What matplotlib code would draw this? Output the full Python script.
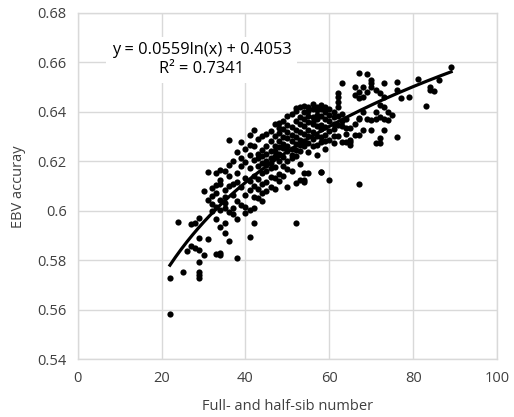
import matplotlib.pyplot as plt
import numpy as np

# sib number -> EBV accuracy values (x is an integer count)
SIB_COUNTS = {
    22: [0.5585, 0.5730],
    24: [0.5957],
    25: [0.5752],
    26: [0.5840],
    27: [0.5858, 0.5948],
    28: [0.5850, 0.5950],
    29: [0.5730, 0.5742, 0.5755, 0.5793, 0.5843, 0.5890, 0.5973],
    30: [0.5822, 0.6080],
    31: [0.5886, 0.6156, 0.6043],
    32: [0.6062, 0.6027, 0.5998, 0.6093],
    33: [0.5825, 0.5968, 0.6074, 0.6106, 0.6017, 0.6154],
    34: [0.5830, 0.5820, 0.5935, 0.6109, 0.6046, 0.6003, 0.6124, 0.6166],
    35: [0.5910, 0.5952, 0.6163, 0.6058, 0.6012, 0.6083, 0.6031],
    36: [0.5880, 0.6186, 0.6102, 0.5997, 0.6143, 0.6287],
    37: [0.6108, 0.6203, 0.6013, 0.5988, 0.6064],
    38: [0.5809, 0.5968, 0.6240, 0.6152, 0.6041, 0.6117],
    39: [0.6280, 0.6183, 0.6024, 0.6098, 0.6213],
    40: [0.5990, 0.6017, 0.6134, 0.6196, 0.6252, 0.6063],
    41: [0.5894, 0.6004, 0.6172, 0.6228, 0.6083, 0.6121, 0.6268, 0.6308],
    42: [0.5953, 0.6327, 0.6058, 0.6143, 0.6204, 0.6102, 0.6262, 0.6011],
    43: [0.6052, 0.6183, 0.6231, 0.6128, 0.6291, 0.6087, 0.6212],
    44: [0.6071, 0.6153, 0.6247, 0.6192, 0.6302, 0.6108, 0.6223, 0.6042],
    45: [0.6118, 0.6203, 0.6264, 0.6161, 0.6312, 0.6232, 0.6079, 0.6184],
    46: [0.6098, 0.6172, 0.6243, 0.6283, 0.6214, 0.6138, 0.6322, 0.6193],
    47: [0.6133, 0.6221, 0.6262, 0.6178, 0.6303, 0.6244, 0.6088, 0.6352],
    48: [0.6335, 0.6356, 0.6149, 0.6232, 0.6284, 0.6201, 0.6313, 0.6258, 0.6121],
    49: [0.6182, 0.6253, 0.6298, 0.6219, 0.6363, 0.6272, 0.6141, 0.6331],
    50: [0.6096, 0.6203, 0.6262, 0.6318, 0.6241, 0.6293, 0.6382, 0.6168, 0.6348],
    51: [0.6212, 0.6283, 0.6338, 0.6251, 0.6393, 0.6308, 0.6162, 0.6228],
    52: [0.5953, 0.6112, 0.6403, 0.6272, 0.6327, 0.6221, 0.6363, 0.6298, 0.6414, 0.6248],
    53: [0.6125, 0.6288, 0.6352, 0.6243, 0.6379, 0.6318, 0.6418, 0.6268, 0.6191],
    54: [0.6125, 0.6152, 0.6118, 0.6312, 0.6371, 0.6262, 0.6398, 0.6343, 0.6423, 0.6281],
    55: [0.6152, 0.6303, 0.6358, 0.6402, 0.6328, 0.6273, 0.6421, 0.6383, 0.6239],
    56: [0.6318, 0.6379, 0.6412, 0.6352, 0.6291, 0.6432, 0.6262, 0.6358],
    57: [0.6226, 0.6342, 0.6389, 0.6418, 0.6302, 0.6371, 0.6268, 0.6409],
    58: [0.6156, 0.6159, 0.6331, 0.6382, 0.6413, 0.6348, 0.6298, 0.6428, 0.6278],
    59: [0.6308, 0.6372, 0.6401, 0.6338, 0.6282, 0.6419, 0.6252],
    60: [0.6125, 0.6322, 0.6388, 0.6362, 0.6288, 0.6412],
    61: [0.6274, 0.6332, 0.6381, 0.6302, 0.6398, 0.6352],
    62: [0.6475, 0.6462, 0.6442, 0.6421, 0.6348, 0.6301, 0.6382],
    63: [0.6516, 0.6280, 0.6342, 0.6391, 0.6362],
    64: [0.6280, 0.6334, 0.6371, 0.6312],
    65: [0.6287, 0.6334, 0.6280, 0.6267],
    66: [0.6470, 0.6500, 0.6307, 0.6352],
    67: [0.6556, 0.6480, 0.6455, 0.6373, 0.6307, 0.6108, 0.6375],
    68: [0.6500, 0.6401, 0.6327, 0.6460],
    69: [0.6554, 0.6370, 0.6480],
    70: [0.6530, 0.6500, 0.6368, 0.6327, 0.6516],
    71: [0.6489, 0.6370, 0.6274, 0.6400],
    72: [0.6476, 0.6428, 0.6294, 0.6380, 0.6276],
    73: [0.6516, 0.6462, 0.6421, 0.6327, 0.6370],
    74: [0.6368, 0.6400],
    75: [0.6388],
    76: [0.6522, 0.6489, 0.6300],
    77: [0.6455],
    79: [0.6459],
    81: [0.6532],
    83: [0.6424],
    84: [0.6502, 0.6489],
    85: [0.6486],
    86: [0.6529],
    89: [0.6580],
}

# log trendline as printed on the chart
SLOPE = 0.0559
INTERCEPT = 0.4053
R2 = 0.7341

X_TICKS = [0, 20, 40, 60, 80, 100]
Y_TICKS = [0.54, 0.56, 0.58, 0.60, 0.62, 0.64, 0.66, 0.68]
Y_LABELS = ["0.54", "0.56", "0.58", "0.6", "0.62", "0.64", "0.66", "0.68"]

GRID = "#d9d9d9"
TXT = "#404040"

x = np.array([k for k, vals in SIB_COUNTS.items() for _ in vals], dtype=float)
y = np.array([v for vals in SIB_COUNTS.values() for v in vals])

plt.rcParams["font.family"] = ["Open Sans", "DejaVu Sans"]

fig = plt.figure(figsize=(5.14, 4.17), dpi=100)
ax = fig.add_axes([0.151, 0.138, 0.8165, 0.831])

ax.scatter(x, y, s=20, color="black", linewidths=0, zorder=3)

xt = np.linspace(x.min(), x.max(), 200)
ax.plot(xt, SLOPE * np.log(xt) + INTERCEPT, color="black", lw=2.3, zorder=4)

ax.set_xlim(0, 100)
ax.set_ylim(0.54, 0.68)
ax.set_xticks(X_TICKS)
ax.set_yticks(Y_TICKS)
ax.set_yticklabels(Y_LABELS)
ax.tick_params(length=0, labelsize=10.5, colors=TXT, pad=8)
ax.grid(True, color=GRID, lw=1.0, zorder=0)
ax.set_axisbelow(True)
for sp in ax.spines.values():
    sp.set_color(GRID)
    sp.set_linewidth(1.0)

ax.set_xlabel("Full- and half-sib number", fontsize=10.5, color=TXT, labelpad=10)
ax.set_ylabel("EBV accuray", fontsize=10.5, color=TXT, labelpad=8)

ax.text(29.5, 0.6610, f"y = {SLOPE}ln(x) + {INTERCEPT}\nR² = {R2}",
        ha="center", va="center", fontsize=11.8, color="black", linespacing=1.25,
        bbox=dict(facecolor="white", edgecolor="none", pad=4), zorder=5)

fig.savefig("out.png", dpi=100)
